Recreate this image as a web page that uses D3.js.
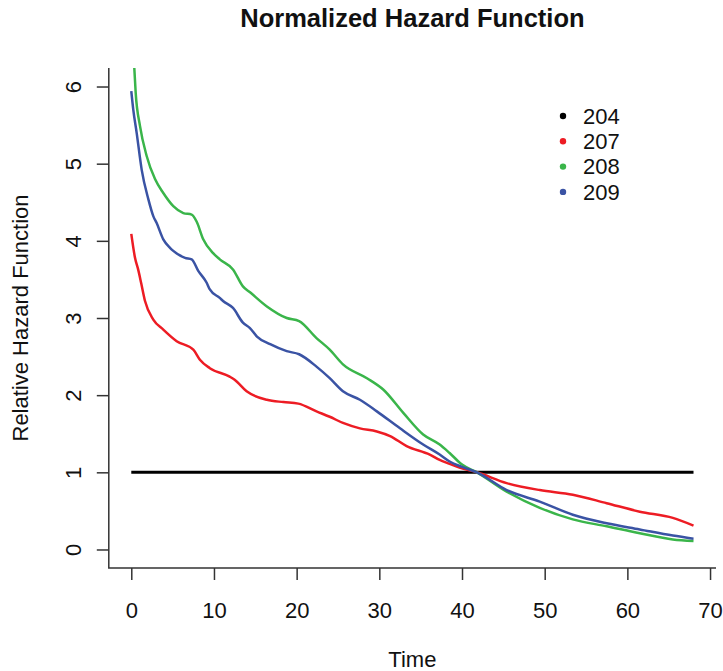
<!DOCTYPE html>
<html>
<head>
<meta charset="utf-8">
<script src="https://cdn.jsdelivr.net/npm/d3@7"></script>
<style>
  body { margin: 0; background: #fff; }
  svg { display: block; font-family: "Liberation Sans", Arial, sans-serif; }
</style>
</head>
<body>
<div id="chart"></div>
<script>
// data
const seriesNames = ['204', '207', '208', '209'];
const seriesColors = ['#000000', '#ED1C24', '#3AB54A', '#3A53A4'];

const time204 = [0, 68];
const hazard204 = [1, 1];

const time207 = [0, 0.45, 0.85, 1.2, 1.66, 2.66, 3.87, 5.49, 7.5, 8.3, 9.5, 11.9, 12.5, 13.95, 16.4, 18.4, 20.2, 22.4, 24, 25.6, 27.65, 29.7, 31.3, 33.3, 36.1, 37.3, 38.5, 39.7, 41.8, 45.4, 49.4, 53.4, 57.5, 61.5, 65.5, 68];
const hazard207 = [4.09, 3.78, 3.62, 3.45, 3.22, 2.98, 2.85, 2.70, 2.59, 2.46, 2.35, 2.24, 2.20, 2.05, 1.94, 1.91, 1.89, 1.79, 1.72, 1.64, 1.57, 1.53, 1.47, 1.34, 1.23, 1.16, 1.11, 1.06, 1.0, 0.86, 0.77, 0.71, 0.60, 0.49, 0.41, 0.31];

const time208 = [0, 0.36, 0.53, 1.05, 1.86, 2.87, 3.87, 5.08, 6.29, 7.3, 7.9, 8.7, 9.9, 10.7, 12.3, 13.5, 14.4, 16.4, 18.8, 20.3, 22.4, 24, 25.6, 28.5, 30.5, 32.9, 35.3, 37.3, 38.5, 40, 41.8, 45.4, 49.4, 53.4, 57.5, 61.5, 65.5, 68];
const hazard208 = [6.7, 6.25, 5.92, 5.49, 5.10, 4.80, 4.62, 4.45, 4.36, 4.34, 4.25, 4.02, 3.84, 3.76, 3.63, 3.41, 3.33, 3.15, 3.0, 2.96, 2.74, 2.59, 2.40, 2.22, 2.07, 1.77, 1.49, 1.36, 1.25, 1.10, 1.0, 0.75, 0.54, 0.39, 0.30, 0.21, 0.13, 0.11];

const time209 = [0, 0.24, 0.65, 1.26, 2.06, 2.66, 3.07, 3.87, 4.68, 5.08, 6.5, 7.3, 8.1, 9.1, 9.5, 10.7, 11.1, 12.3, 13.5, 14.35, 15.2, 16.8, 18.8, 20.3, 22.4, 24, 25.6, 27.65, 29.7, 32.5, 35.3, 37.3, 38.5, 40, 41.8, 45.4, 49.4, 53.4, 57.5, 61.5, 65.5, 68];
const hazard209 = [5.94, 5.70, 5.40, 4.92, 4.54, 4.32, 4.23, 4.02, 3.91, 3.87, 3.78, 3.76, 3.61, 3.46, 3.37, 3.26, 3.22, 3.13, 2.94, 2.87, 2.76, 2.66, 2.57, 2.53, 2.37, 2.22, 2.05, 1.94, 1.79, 1.57, 1.36, 1.23, 1.14, 1.07, 1.0, 0.77, 0.62, 0.45, 0.34, 0.26, 0.18, 0.14];

const xTicks = [0, 10, 20, 30, 40, 50, 60, 70];
const yTicks = [0, 1, 2, 3, 4, 5, 6];

const series = [
  { name: seriesNames[0], color: seriesColors[0], width: 3, points: d3.zip(time204, hazard204) },
  { name: seriesNames[1], color: seriesColors[1], width: 2.5, points: d3.zip(time207, hazard207) },
  { name: seriesNames[2], color: seriesColors[2], width: 2.5, points: d3.zip(time208, hazard208) },
  { name: seriesNames[3], color: seriesColors[3], width: 2.5, points: d3.zip(time209, hazard209) },
];

const width = 723, height = 671;
const plot = { left: 108.8, right: 716, top: 68, bottom: 568 };

const svg = d3.select('#chart').append('svg')
  .attr('width', width)
  .attr('height', height);

// R style 4% padding on both axes
const xScale = d3.scaleLinear().domain([-2.72, 70.72]).range([plot.left, plot.right]);
const yScale = d3.scaleLinear().domain([-0.24, 6.24]).range([plot.bottom, plot.top]);

svg.append('defs').append('clipPath').attr('id', 'plot-clip')
  .append('rect')
  .attr('x', plot.left).attr('y', plot.top)
  .attr('width', plot.right - plot.left).attr('height', plot.bottom - plot.top);

// axes
const xAxis = d3.axisBottom(xScale).tickValues(xTicks).tickFormat(d3.format('d'))
  .tickSize(12).tickPadding(22).tickSizeOuter(0);
const yAxis = d3.axisLeft(yScale).tickValues(yTicks).tickFormat(d3.format('d'))
  .tickSize(12).tickPadding(20).tickSizeOuter(0);

const gx = svg.append('g').attr('transform', `translate(0,${plot.bottom})`).call(xAxis);
const gy = svg.append('g').attr('transform', `translate(${plot.left},0)`).call(yAxis);

[gx, gy].forEach(g => {
  g.select('.domain').remove();
  g.selectAll('.tick line').attr('stroke', '#333').attr('stroke-width', 1.5);
  g.selectAll('.tick text').attr('fill', '#111').style('font-size', '22px');
});
gx.selectAll('.tick text').attr('dy', '0.71em');
gy.selectAll('.tick text')
  .attr('text-anchor', 'middle')
  .attr('transform', function () {
    const x = +d3.select(this).attr('x');
    return `translate(${x - 4},0) rotate(-90)`;
  })
  .attr('x', 0)
  .attr('dy', '0.35em');

// L-shaped box
svg.append('path')
  .attr('d', `M${plot.left},${plot.top}V${plot.bottom}H${plot.right}`)
  .attr('fill', 'none')
  .attr('stroke', '#333')
  .attr('stroke-width', 1.5);

// lines
const line = d3.line().x(d => xScale(d[0])).y(d => yScale(d[1])).curve(d3.curveMonotoneX);
svg.append('g').attr('clip-path', 'url(#plot-clip)')
  .selectAll('path')
  .data(series)
  .join('path')
  .attr('d', d => line(d.points))
  .attr('fill', 'none')
  .attr('stroke', d => d.color)
  .attr('stroke-width', d => d.width)
  .attr('stroke-linejoin', 'round');

// legend
const legend = svg.append('g').attr('transform', 'translate(563,116)');
const rows = legend.selectAll('g').data(series).join('g')
  .attr('transform', (d, i) => `translate(0,${i * 25.3})`);
rows.append('circle').attr('r', 3.2).attr('fill', d => d.color);
rows.append('text')
  .attr('x', 20)
  .attr('dy', '0.35em')
  .style('font-size', '22px')
  .attr('fill', '#111')
  .text(d => d.name);

// titles
svg.append('text')
  .attr('x', (plot.left + plot.right) / 2)
  .attr('y', 27)
  .attr('text-anchor', 'middle')
  .style('font-size', '25.5px')
  .style('font-weight', 'bold')
  .attr('fill', '#111')
  .text('Normalized Hazard Function');

svg.append('text')
  .attr('x', (plot.left + plot.right) / 2)
  .attr('y', 667)
  .attr('text-anchor', 'middle')
  .style('font-size', '22px')
  .attr('fill', '#111')
  .text('Time');

svg.append('text')
  .attr('transform', `translate(28,${(plot.top + plot.bottom) / 2}) rotate(-90)`)
  .attr('text-anchor', 'middle')
  .style('font-size', '22px')
  .attr('fill', '#111')
  .text('Relative Hazard Function');
</script>
</body>
</html>
